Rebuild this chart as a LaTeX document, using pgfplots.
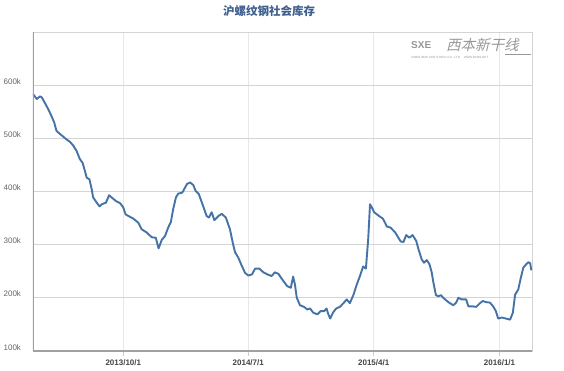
\documentclass[border=0pt]{standalone}
\usepackage{pgfplots}
\pgfplotsset{compat=1.18}
\usepackage{fontspec}
\setmainfont{Liberation Sans}
\newfontfamily\cjk{Noto Sans CJK SC}
\newfontfamily\cjkwm{Noto Sans CJK SC}[FakeSlant=0.25]
\definecolor{linec}{HTML}{4572A7}
\definecolor{titlec}{HTML}{3E5F8E}
\definecolor{hgrid}{HTML}{D4D4D4}
\definecolor{vgrid}{HTML}{E6E8EE}
\definecolor{tickc}{HTML}{C0D0E0}
\definecolor{labc}{HTML}{666666}
\definecolor{xlabc}{HTML}{444444}
\definecolor{axc}{HTML}{A0A0A0}
\definecolor{wmc}{HTML}{989898}
\pgfplotstableread{
d v
-197 583
-189 574
-182 579
-178 577
-171 566
-164 555
-156 540
-151 530
-146 514
-138 508
-131 503
-124 498
-116 493
-109 486
-102 476
-95 461
-89 454
-84 439
-80 426
-74 423
-69 404
-66 389
-58 379
-52 372
-47 376
-38 379
-31 393
-23 387
-16 382
-7 378
0 370
5 357
11 354
22 349
33 341
40 329
51 323
62 314
71 313
77 293
84 309
91 316
98 332
104 343
109 367
115 389
120 396
129 398
139 414
146 417
153 412
158 401
165 395
173 376
182 354
187 351
193 361
199 346
208 354
215 358
224 351
233 329
239 304
244 286
251 276
259 260
266 247
273 242
281 244
288 255
297 255
306 248
315 244
324 241
331 248
339 245
346 236
353 228
358 222
366 219
371 240
375 225
379 200
386 186
395 183
402 178
408 180
415 172
424 169
431 175
439 175
444 180
448 169
452 161
458 172
465 180
473 183
481 190
488 197
495 190
503 206
510 225
517 241
524 259
530 255
535 310
539 376
543 370
548 361
557 355
567 349
572 341
576 334
584 332
594 323
601 313
606 306
612 305
618 318
625 313
632 318
640 307
645 291
652 272
657 266
663 271
669 263
674 247
677 231
683 205
688 203
694 205
699 200
710 192
721 186
727 191
732 200
739 197
749 197
754 184
763 184
771 183
778 189
785 194
792 192
801 191
808 184
814 175
819 161
827 163
836 161
845 159
851 172
856 206
863 216
868 236
874 257
880 263
885 267
889 265
891 253
}\inventory
\begin{document}
\begin{tikzpicture}[x=1pt,y=1pt]
\useasboundingbox (0,0) rectangle (564,370);
\node[text=titlec, font=\cjk\bfseries\fontsize{11.5}{13}\selectfont] at (269,358.5) {沪螺纹钢社会库存};
\begin{axis}[
  at={(33pt,19pt)}, anchor=south west,
  scale only axis, width=499pt, height=319pt,
  xmin=-197.3, xmax=892.9, ymin=100, ymax=700,
  xtick={0,273,547,822},
  xticklabels={2013/10/1,2014/7/1,2015/4/1,2016/1/1},
  ytick={100,200,300,400,500,600},
  yticklabels={100k,200k,300k,400k,500k,600k},
  xmajorgrids, ymajorgrids,
  x grid style={draw=vgrid, line width=0.8pt},
  y grid style={draw=hgrid, line width=0.8pt},
  axis line style={draw=hgrid, line width=0.8pt},
  tick pos=left, tick align=outside,
  xtick style={draw=tickc, line width=0.8pt},
  ytick style={draw=none},
  major tick length=5pt,
  yticklabel style={anchor=base east, font=\fontsize{8}{9}\selectfont, text=labc, xshift=-3.5pt, yshift=1pt},
  xticklabel style={font=\bfseries\fontsize{8}{9}\selectfont, text=xlabc, yshift=0pt},
]
\addplot[linec, line width=1.9pt, line join=round, line cap=round] table[x=d, y=v] {\inventory};
\draw[axc, line width=1.3pt] (rel axis cs:0,0) -- (rel axis cs:0,1);
\draw[axc, line width=1.3pt] (rel axis cs:0,0) -- (rel axis cs:1,0);
\end{axis}
\node[text=wmc, font=\cjkwm\fontsize{14.5}{15}\selectfont, anchor=west, inner sep=0pt] at (446,325) {西本新干线};
\node[text=wmc, font=\bfseries\fontsize{10}{11}\selectfont, anchor=west, inner sep=0pt] at (411,325) {SXE};
\node[text=wmc, font=\fontsize{3}{4}\selectfont, anchor=west, inner sep=0pt] at (411,312) {XIBEN NEW LINE STOCK CO., LTD.\quad WWW.96369.NET};
\draw[wmc, line width=0.6pt] (505,316) -- (531,316);
\end{tikzpicture}
\end{document}
